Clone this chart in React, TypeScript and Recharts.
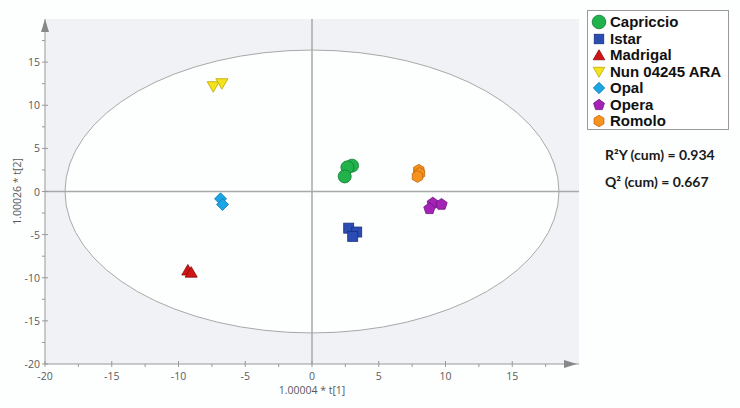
import React from 'react';
import {
    ScatterChart,
    Scatter,
    XAxis,
    YAxis,
    CartesianGrid,
    ReferenceLine,
    ReferenceArea,
    ReferenceDot,
} from 'recharts';

// score plot, t[1] vs t[2]
const capriccio = [
    { x: 3.0, y: 3.0 },
    { x: 2.65, y: 2.8 },
    { x: 2.45, y: 1.75 },
];
const istar = [
    { x: 2.75, y: -4.25 },
    { x: 3.35, y: -4.7 },
    { x: 3.05, y: -5.2 },
];
const madrigal = [
    { x: -9.3, y: -9.1 },
    { x: -9.05, y: -9.35 },
];
const nun = [
    { x: -7.4, y: 12.15 },
    { x: -6.75, y: 12.5 },
];
const opal = [
    { x: -6.85, y: -0.85 },
    { x: -6.7, y: -1.5 },
];
const opera = [
    { x: 9.05, y: -1.35 },
    { x: 9.7, y: -1.5 },
    { x: 8.8, y: -2.0 },
];
const romolo = [
    { x: 8.0, y: 2.45 },
    { x: 8.05, y: 2.1 },
    { x: 7.9, y: 1.75 },
];

const axisTicks = [-20, -17.5, -15, -12.5, -10, -7.5, -5, -2.5, 0, 2.5, 5, 7.5, 10, 12.5, 15, 17.5];
const labelledTicks = [-20, -15, -10, -5, 0, 5, 10, 15];

const stats = ['R²Y (cum) = 0.934', 'Q² (cum) = 0.667'];

type Kind = 'circle' | 'square' | 'triangle' | 'down' | 'diamond' | 'pentagon' | 'hexagon';

const series: { name: string; data: { x: number; y: number }[]; kind: Kind; fill: string; stroke: string }[] = [
    { name: 'Capriccio', data: capriccio, kind: 'circle', fill: '#21b24b', stroke: '#0f7a30' },
    { name: 'Istar', data: istar, kind: 'square', fill: '#2b4db3', stroke: '#18307e' },
    { name: 'Madrigal', data: madrigal, kind: 'triangle', fill: '#d01515', stroke: '#8a0606' },
    { name: 'Nun 04245 ARA', data: nun, kind: 'down', fill: '#f3e21c', stroke: '#bfa800' },
    { name: 'Opal', data: opal, kind: 'diamond', fill: '#1ba5e4', stroke: '#0c78b0' },
    { name: 'Opera', data: opera, kind: 'pentagon', fill: '#a423b6', stroke: '#6e1480' },
    { name: 'Romolo', data: romolo, kind: 'hexagon', fill: '#f6921e', stroke: '#c46606' },
];

const polygon = (cx: number, cy: number, n: number, r: number, startDeg: number) =>
    Array.from({ length: n }, (_, i) => {
        const a = ((startDeg + (360 / n) * i) * Math.PI) / 180;
        return `${cx + r * Math.cos(a)},${cy + r * Math.sin(a)}`;
    }).join(' ');

function Marker({ kind, cx, cy, fill, stroke, scale = 1 }: { kind: Kind; cx: number; cy: number; fill: string; stroke: string; scale?: number }) {
    const common = { fill, stroke, strokeWidth: 0.8 };
    switch (kind) {
        case 'circle':
            return <circle cx={cx} cy={cy} r={6.5 * scale} {...common} />;
        case 'square':
            return <rect x={cx - 5 * scale} y={cy - 5 * scale} width={10 * scale} height={10 * scale} {...common} />;
        case 'triangle':
            return <polygon points={polygon(cx, cy + 1.5 * scale, 3, 7 * scale, -90)} {...common} />;
        case 'down':
            return <polygon points={polygon(cx, cy - 1.5 * scale, 3, 7 * scale, 90)} {...common} />;
        case 'diamond':
            return <polygon points={polygon(cx, cy, 4, 6 * scale, -90)} {...common} />;
        case 'pentagon':
            return <polygon points={polygon(cx, cy, 5, 6 * scale, -90)} {...common} />;
        default:
            return <polygon points={polygon(cx, cy, 6, 6 * scale, -90)} {...common} />;
    }
}

const tickFont = { fontFamily: 'Open Sans, DejaVu Sans, sans-serif', fontSize: 10.5, fill: '#5a5a5a', stroke: 'none' };

function XTick(props: any) {
    const { x, y, payload } = props;
    const major = labelledTicks.includes(payload.value);
    return (
        <g>
            <line x1={x} x2={x} y1={major ? y - 3 : y} y2={y + 3} stroke="#999" />
            {major && (
                <text x={x} y={y + 16} textAnchor="middle" {...tickFont}>
                    {payload.value}
                </text>
            )}
        </g>
    );
}

function YTick(props: any) {
    const { x, y, payload } = props;
    const major = labelledTicks.includes(payload.value);
    return (
        <g>
            <line x1={x - 3} x2={major ? x + 3 : x} y1={y} y2={y} stroke="#999" />
            {major && (
                <text x={x - 5} y={y + 4} textAnchor="end" {...tickFont}>
                    {payload.value}
                </text>
            )}
        </g>
    );
}

export default function App() {
    return (
        <div
            style={{
                position: 'absolute',
                left: 0,
                top: 0,
                width: 740,
                height: 408,
                background: '#fdfefe',
                fontFamily: 'Liberation Sans, Arial, sans-serif',
            }}
        >
            <ScatterChart width={740} height={408} margin={{ top: 19, right: 161, bottom: 0, left: 0 }}>
                <CartesianGrid horizontal={false} vertical={false} fill="#f1f2f6" />
                <XAxis
                    type="number"
                    dataKey="x"
                    domain={[-20, 20]}
                    ticks={axisTicks}
                    interval={0}
                    height={44}
                    tickSize={0}
                    tickMargin={0}
                    tickLine={false}
                    tick={<XTick />}
                    axisLine={{ stroke: '#999' }}
                    allowDataOverflow
                    label={{
                        content: (p: any) => {
                            const vb = p.viewBox;
                            return (
                                <text x={vb.x + vb.width / 2} y={vb.y + 30} textAnchor="middle" {...tickFont}>
                                    1.00004 * t[1]
                                </text>
                            );
                        },
                    }}
                />
                <YAxis
                    type="number"
                    dataKey="y"
                    domain={[-20, 20]}
                    ticks={axisTicks}
                    interval={0}
                    width={45}
                    tickSize={0}
                    tickMargin={0}
                    tickLine={false}
                    tick={<YTick />}
                    axisLine={{ stroke: '#999' }}
                    allowDataOverflow
                    label={{
                        content: (p: any) => {
                            const vb = p.viewBox;
                            const cy = vb.y + vb.height / 2;
                            return (
                                <text x={18} y={cy} transform={`rotate(-90 18 ${cy})`} textAnchor="middle" dominantBaseline="middle" {...tickFont}>
                                    1.00026 * t[2]
                                </text>
                            );
                        },
                    }}
                />
                <ReferenceArea
                    x1={-18.5}
                    x2={18.5}
                    y1={-16.4}
                    y2={16.4}
                    ifOverflow="visible"
                    shape={(p: any) => (
                        <ellipse
                            cx={p.x + p.width / 2}
                            cy={p.y + p.height / 2}
                            rx={p.width / 2}
                            ry={p.height / 2}
                            fill="#fdfefe"
                            stroke="#a8a8a8"
                            strokeWidth={1}
                        />
                    )}
                />
                <ReferenceLine x={0} stroke="#a9a9a9" strokeWidth={1.5} />
                <ReferenceLine y={0} stroke="#a9a9a9" strokeWidth={1.5} />
                <ReferenceDot
                    x={20}
                    y={-20}
                    ifOverflow="visible"
                    shape={(p: any) => (
                        <polygon points={`${p.cx - 2},${p.cy} ${p.cx - 15},${p.cy - 4} ${p.cx - 15},${p.cy + 4}`} fill="#888" />
                    )}
                />
                <ReferenceDot
                    x={-20}
                    y={20}
                    ifOverflow="visible"
                    shape={(p: any) => (
                        <polygon points={`${p.cx},${p.cy} ${p.cx - 4},${p.cy + 13} ${p.cx + 4},${p.cy + 13}`} fill="#888" />
                    )}
                />
                {series.map((s) => (
                    <Scatter
                        key={s.name}
                        name={s.name}
                        data={s.data}
                        isAnimationActive={false}
                        shape={(p: any) => <Marker kind={s.kind} cx={p.cx} cy={p.cy} fill={s.fill} stroke={s.stroke} />}
                    />
                ))}
            </ScatterChart>

            <div
                style={{
                    position: 'absolute',
                    left: 587,
                    top: 10,
                    width: 142,
                    height: 120,
                    boxSizing: 'border-box',
                    border: '1px solid #9a9a9a',
                    background: '#fff',
                    paddingTop: 3,
                }}
            >
                {series.map((s) => (
                    <div key={s.name} style={{ display: 'flex', alignItems: 'center', height: 16.5 }}>
                        <svg width={22} height={16} style={{ flex: 'none' }}>
                            <Marker kind={s.kind} cx={11} cy={8} fill={s.fill} stroke={s.stroke} scale={s.kind === 'circle' ? 1.05 : 0.95} />
                        </svg>
                        <span style={{ fontWeight: 'bold', fontSize: 15, color: '#111', whiteSpace: 'nowrap', lineHeight: '16px' }}>{s.name}</span>
                    </div>
                ))}
            </div>

            {stats.map((t, i) => (
                <div
                    key={t}
                    style={{
                        position: 'absolute',
                        left: 605,
                        top: 146 + i * 27,
                        fontFamily: 'Lato, Open Sans, sans-serif',
                        fontWeight: 'bold',
                        fontSize: 14,
                        color: '#1a1a1a',
                        whiteSpace: 'nowrap',
                    }}
                >
                    {t}
                </div>
            ))}
        </div>
    );
}
